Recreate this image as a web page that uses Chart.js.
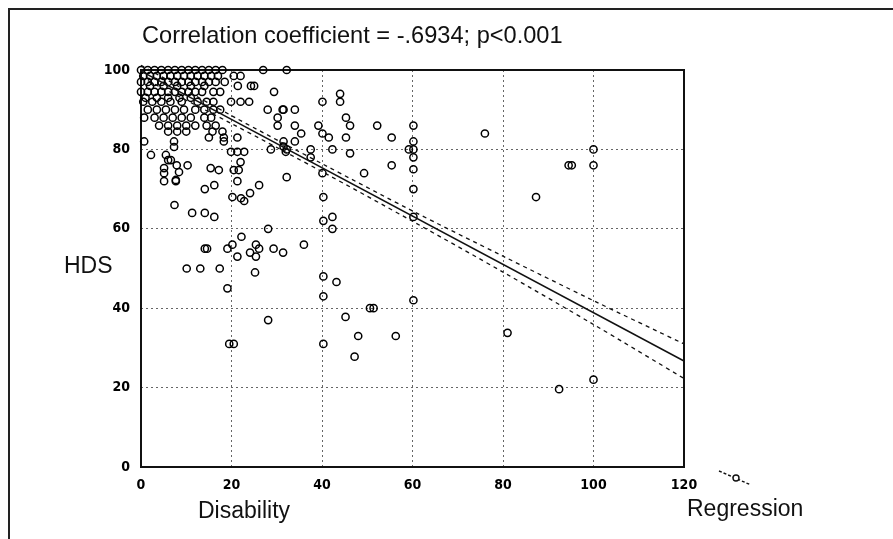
<!DOCTYPE html>
<html><head><meta charset="utf-8">
<script src="https://cdn.jsdelivr.net/npm/chart.js@4.4.1/dist/chart.umd.min.js"></script>
<style>
html,body{margin:0;padding:0;background:#fff;}
#wrap{position:relative;width:893px;height:539px;overflow:hidden;background:#fff;}
#frame{position:absolute;left:8px;top:8px;width:900px;height:600px;border-left:2px solid #222;border-top:2px solid #222;}
#c{position:absolute;left:0;top:0;}
.t{position:absolute;font-family:'Liberation Sans',Arial,sans-serif;font-size:23px;color:#111;white-space:nowrap;line-height:23px;}
</style></head>
<body>
<div id="wrap">
<div id="frame"></div>
<canvas id="c" width="893" height="539"></canvas>
<div class="t" style="left:142px;top:24px;font-size:23.6px;">Correlation coefficient = -.6934; p&lt;0.001</div>
<div class="t" style="left:64px;top:254px;">HDS</div>
<div class="t" style="left:198px;top:499px;">Disability</div>
<div class="t" style="left:687px;top:497px;">Regression</div>
</div>
<script>
// ---- data ----
const disability = [
 0,1.5,3,4.5,6,7.5,9,10.5,12,13.5,15,16.5,18,27,32.2,
 0.5,2,3.5,5,6.5,8,9.5,11,12.5,14,15.5,17,20.5,22,
 0,1.5,3,4.5,6,7.5,9,10.5,12,13.5,15,16.5,18.5,
 2,5,8,11,14,21.4,24.3,25,
 0,1.5,3,4.5,6,7.5,9,10.5,12,13.5,16,17.5,29.4,
 1,3.5,6,8.5,11,
 0.5,2.5,4.5,6.5,9,12.5,14.5,16,19.9,22,23.9,
 1.5,3.5,5.5,7.5,9.5,12,14,16,17.5,28,31.3,
 0.7,3,5,7,9,11,14,15.5,30.2,
 4,6,8,10,12,14.5,16.5,30.2,
 6,8,10,15.8,18,
 15,18.3,21.3,
 0.7,7.3,18.3,
 31.5,34,34,39.2,45.3,46.2,52.2,60.2,35.4,40.1,41.5,45.3,55.4,60.2,31.5,34,42.3,46.2,59.2,60.2,60.2,55.4,60.2,49.3,40.1,32.2,37.5,37.5,32.2,40.1,44,44,28.7,31.5,32,22,19.9,21.3,22.8,
 2.2,5.5,6.6,7.9,8.4,5.1,5.1,7.7,10.3,15.4,17.2,20.5,21.6,7.3,6,
 5.1,7.7,14.1,16.2,21.3,20.2,22.1,22.8,24.1,26.1,7.4,11.3,14.1,16.2,28.1,22.2,14.1,14.6,19.1,20.2,21.3,24.1,25.4,26.1,25.4,29.3,31.4,36,10.1,13.1,17.4,25.2,19.1,28.1,19.5,20.5,
 60.2,40.3,42.3,40.3,42.3,60.2,40.3,43.2,40.3,60.2,50.6,51.4,45.2,48,56.3,40.3,47.2,81,76,100,100,94.5,95.2,87.3,92.4,100
];
const hds = [
 100,100,100,100,100,100,100,100,100,100,100,100,100,100,100,
 98.5,98.5,98.5,98.5,98.5,98.5,98.5,98.5,98.5,98.5,98.5,98.5,98.5,98.5,
 97,97,97,97,97,97,97,97,97,97,97,97,97,
 96,96,96,96,96,96,96,96,
 94.5,94.5,94.5,94.5,94.5,94.5,94.5,94.5,94.5,94.5,94.5,94.5,94.5,
 93,93,93,93,93,
 92,92,92,92,92,92,92,92,92,92,92,
 90,90,90,90,90,90,90,90,90,90,90,
 88,88,88,88,88,88,88,88,88,
 86,86,86,86,86,86,86,86,
 84.5,84.5,84.5,84.5,84.5,
 83,83,83,
 82,82,82,
 90,90,86,86,88,86,86,86,84,84,83,83,83,82,82,82,80,79,80,80,78,76,75,74,74,73,80,78,80,92,94,92,80,80.7,79.4,76.8,79.4,79.4,79.4,
 78.6,78.6,77.3,76,74.3,75.3,74,72.3,76,75.3,74.8,74.8,74.8,80.6,77.3,
 72,72,70,71,72,68,67.7,67,69,71,66,64,64,63,60,58,55,55,55,56,53,54,56,55,53,55,54,56,50,50,50,49,45,37,31,31,
 70,68,63,62,60,63,48,46.6,43,42,40,40,37.8,33,33,31,27.8,33.8,84,80,76,76,76,68,19.6,22
];
// regression line and its confidence band
const regX = [0, 120];
const regY = [99.7, 26.7];
const bandX = [0, 20, 40, 60, 80, 100, 120];
const bandUpper = [101.2, 88.5, 76.4, 64.5, 53.1, 41.9, 31.0];
const bandLower = [98.2, 86.5, 74.4, 61.9, 49.1, 35.9, 22.3];
const xTicks = [0, 20, 40, 60, 80, 100, 120];
const yTicks = [0, 20, 40, 60, 80, 100];

const pts = disability.map((x, i) => ({x: x, y: hds[i]}));
const toXY = (xs, ys) => xs.map((x, i) => ({x: x, y: ys[i]}));

const framePlugin = {
  id: 'frame',
  beforeDatasetsDraw(chart) {
    const a = chart.chartArea, ctx = chart.ctx;
    ctx.save();
    ctx.strokeStyle = '#111';
    ctx.lineWidth = 2;
    ctx.strokeRect(a.left, a.top, a.right - a.left, a.bottom - a.top);
    ctx.restore();
  },
  afterDraw(chart) {
    const ctx = chart.ctx;
    ctx.save();
    ctx.strokeStyle = '#111';
    ctx.lineWidth = 1.4;
    ctx.setLineDash([3, 2]);
    ctx.beginPath();
    ctx.moveTo(719, 471);
    ctx.lineTo(751, 485);
    ctx.stroke();
    ctx.setLineDash([]);
    ctx.fillStyle = '#fff';
    ctx.beginPath();
    ctx.arc(736, 478, 3, 0, Math.PI * 2);
    ctx.fill();
    ctx.stroke();
    ctx.restore();
  }
};

const tickFont = {family: "'Liberation Sans Narrow','DejaVu Sans Condensed','Liberation Sans',sans-serif", size: 14, weight: 'bold'};

new Chart(document.getElementById('c'), {
  type: 'scatter',
  data: {
    datasets: [
      {label: 'Regression', data: toXY(regX, regY), showLine: true, borderColor: '#111', borderWidth: 1.5, pointRadius: 0, clip: false, order: 1},
      {label: 'upper', data: toXY(bandX, bandUpper), showLine: true, borderColor: '#111', borderWidth: 1.3, borderDash: [4, 4], pointRadius: 0, tension: 0.3, clip: false, order: 1},
      {label: 'lower', data: toXY(bandX, bandLower), showLine: true, borderColor: '#111', borderWidth: 1.3, borderDash: [4, 4], pointRadius: 0, tension: 0.3, clip: false, order: 1},
      {label: 'HDS', data: pts, showLine: false, pointStyle: 'circle', pointRadius: 3.6, borderWidth: 1.5, borderColor: '#000', backgroundColor: 'rgba(0,0,0,0)', clip: false, order: 2}
    ]
  },
  options: {
    responsive: false,
    devicePixelRatio: 1,
    animation: false,
    events: [],
    layout: {padding: {left: 0, top: 70, right: 209, bottom: 32}},
    plugins: {legend: {display: false}, tooltip: {enabled: false}, title: {display: false}},
    scales: {
      x: {
        type: 'linear', min: 0, max: 120,
        afterBuildTicks: s => { s.ticks = xTicks.map(v => ({value: v})); },
        afterFit: s => { s.height = 40; },
        ticks: {font: tickFont, color: '#000', padding: 10, maxRotation: 0},
        grid: {drawTicks: false, lineWidth: 1, color: c => (c.tick && (c.tick.value === 0 || c.tick.value === 120)) ? 'rgba(0,0,0,0)' : '#666'},
        border: {display: false, dash: [2, 3]}
      },
      y: {
        type: 'linear', min: 0, max: 100,
        afterBuildTicks: s => { s.ticks = yTicks.map(v => ({value: v})); },
        afterFit: s => { s.width = 141; },
        ticks: {font: tickFont, color: '#000', padding: 11},
        grid: {drawTicks: false, lineWidth: 1, color: c => (c.tick && (c.tick.value === 0 || c.tick.value === 100)) ? 'rgba(0,0,0,0)' : '#666'},
        border: {display: false, dash: [2, 3]}
      }
    }
  },
  plugins: [framePlugin]
});
</script>
</body></html>
